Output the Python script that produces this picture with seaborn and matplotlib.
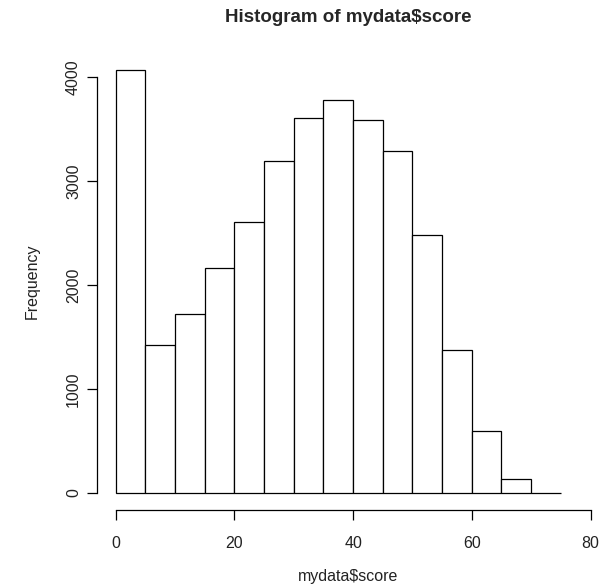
import numpy as np
import matplotlib
matplotlib.use("Agg")
import matplotlib.pyplot as plt
import seaborn as sns

# histogram bins (width 5) and counts
bin_edges = [0, 5, 10, 15, 20, 25, 30, 35, 40, 45, 50, 55, 60, 65, 70, 75]
counts = [4065, 1427, 1720, 2160, 2600, 3195, 3600, 3775, 3585, 3285,
          2477, 1375, 592, 137, 5]
x_ticks = [0, 20, 40, 60, 80]
y_ticks = [0, 1000, 2000, 3000, 4000]

sns.set_style("white")
plt.rcParams['font.family'] = ['Liberation Sans', 'DejaVu Sans']

mids = [(a + b) / 2 for a, b in zip(bin_edges[:-1], bin_edges[1:])]

fig = plt.figure(figsize=(6.03, 5.87), dpi=100)
ax = fig.add_axes([97 / 603, 1 - 510 / 587, (600 - 97) / 603, (510 - 53) / 587])

sns.histplot(x=mids, weights=counts, bins=bin_edges, ax=ax,
             color='white', edgecolor='black', linewidth=0.9, alpha=1)

ax.set_xlim(-3.15, 81.6)
ax.set_ylim(-163, 4228)

for side in ['top', 'right']:
    ax.spines[side].set_visible(False)
for side in ['left', 'bottom']:
    ax.spines[side].set_color('black')
    ax.spines[side].set_linewidth(0.9)
ax.spines['left'].set_bounds(0, 4000)
ax.spines['bottom'].set_bounds(0, 80)

ax.set_xticks(x_ticks)
ax.set_yticks(y_ticks)
ax.tick_params(axis='both', direction='out', length=7.5, width=0.9,
               bottom=True, left=True,
               color='black', labelsize=11.5, labelcolor='#222222')
ax.tick_params(axis='x', pad=11.5)
ax.tick_params(axis='y', pad=4, labelrotation=90)
for lbl in ax.get_yticklabels():
    lbl.set_va('center')

ax.set_xlabel('mydata$score', fontsize=11.5, color='#222222', labelpad=12.5)
ax.set_ylabel('Frequency', fontsize=11.5, color='#222222', labelpad=19)
ax.set_title('Histogram of mydata$score', fontsize=13.5, fontweight='bold', pad=22)
ax.grid(False)

fig.savefig('out.png', dpi=100)
